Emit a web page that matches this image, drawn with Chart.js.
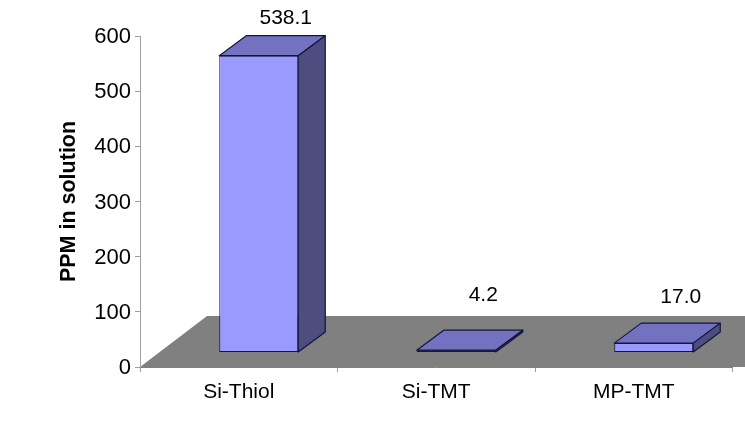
<!DOCTYPE html>
<html>
<head>
<meta charset="utf-8">
<style>html,body{margin:0;padding:0;background:#fff}canvas{display:block}</style>
<script src="https://cdn.jsdelivr.net/npm/chart.js@4/dist/chart.umd.min.js"></script>
</head>
<body>
<canvas id="c" width="745" height="427"></canvas>
<script>
const categories = ["Si-Thiol", "Si-TMT", "MP-TMT"];
const ppmValues = [538.1, 4.2, 17.0];
const yTicks = [0, 100, 200, 300, 400, 500, 600];
const axisTitle = "PPM in solution";

const FONT = '"Liberation Sans", Arial, sans-serif';
const DEPTH_X = 27, DEPTH_Y = 20, SHIFT_X = 20, SHIFT_Y = 14.5;
const LABEL_LIFT = [37.5, 54.5, 45.5];

const scene3d = {
  id: 'scene3d',
  beforeDatasetsDraw(chart) {
    const { ctx, chartArea: a, width } = chart;
    ctx.save();
    ctx.fillStyle = '#808080';
    ctx.beginPath();
    ctx.moveTo(a.left, a.bottom);
    ctx.lineTo(a.left + 67, a.bottom - 51);
    ctx.lineTo(width, a.bottom - 51);
    ctx.lineTo(width, a.bottom);
    ctx.closePath();
    ctx.fill();
    ctx.restore();
  },
  beforeDatasetDraw(chart) {
    chart.ctx.save();
    chart.ctx.translate(SHIFT_X, -SHIFT_Y);
  },
  afterDatasetDraw(chart, args) {
    const { ctx } = chart;
    ctx.strokeStyle = '#14143c';
    ctx.lineWidth = 1.2;
    ctx.lineJoin = 'round';
    args.meta.data.forEach((bar) => {
      const l = bar.x - bar.width / 2, r = bar.x + bar.width / 2, t = bar.y, b = bar.base;
      ctx.fillStyle = '#7272c0';
      ctx.beginPath();
      ctx.moveTo(l, t); ctx.lineTo(l + DEPTH_X, t - DEPTH_Y);
      ctx.lineTo(r + DEPTH_X, t - DEPTH_Y); ctx.lineTo(r, t);
      ctx.closePath(); ctx.fill(); ctx.stroke();
      ctx.fillStyle = '#4d4d80';
      ctx.beginPath();
      ctx.moveTo(r, t); ctx.lineTo(r + DEPTH_X, t - DEPTH_Y);
      ctx.lineTo(r + DEPTH_X, b - DEPTH_Y); ctx.lineTo(r, b);
      ctx.closePath(); ctx.fill(); ctx.stroke();
    });
    ctx.restore();
    ctx.save();
    ctx.fillStyle = '#000';
    ctx.font = '21px ' + FONT;
    ctx.textAlign = 'center';
    ctx.textBaseline = 'middle';
    args.meta.data.forEach((bar, i) => {
      ctx.fillText(ppmValues[i].toFixed(1), bar.x + SHIFT_X + DEPTH_X, bar.y - SHIFT_Y - LABEL_LIFT[i]);
    });
    ctx.restore();
  }
};

new Chart(document.getElementById('c'), {
  type: 'bar',
  data: {
    labels: categories,
    datasets: [{
      data: ppmValues,
      backgroundColor: '#9999ff',
      borderColor: '#14143c',
      borderWidth: 1,
      borderSkipped: false,
      categoryPercentage: 0.4,
      barPercentage: 1,
      clip: false
    }]
  },
  options: {
    responsive: false,
    animation: false,
    layout: { padding: { top: 36, right: 12.5, left: 0, bottom: 0 } },
    plugins: { legend: { display: false }, tooltip: { enabled: false } },
    scales: {
      x: {
        afterFit(s) { s.height = 60; },
        grid: { drawOnChartArea: false, drawTicks: true, tickLength: 5, color: '#a0a0a0', offset: true },
        border: { color: '#808080' },
        ticks: { color: '#000', font: { family: FONT, size: 21 }, padding: 8, maxRotation: 0 }
      },
      y: {
        min: 0, max: 600,
        afterFit(s) { s.width = 140; },
        afterBuildTicks(s) { s.ticks = yTicks.map(v => ({ value: v })); },
        grid: { drawOnChartArea: false, tickLength: 5, color: '#a0a0a0' },
        border: { color: '#a0a0a0' },
        ticks: { color: '#000', font: { family: FONT, size: 22 }, padding: 4, labelOffset: 1 },
        title: {
          display: true, text: axisTitle, color: '#000',
          font: { family: FONT, size: 21.5, weight: 'bold' },
          padding: { top: 56, bottom: 0 }
        }
      }
    }
  },
  plugins: [scene3d]
});
</script>
</body>
</html>
